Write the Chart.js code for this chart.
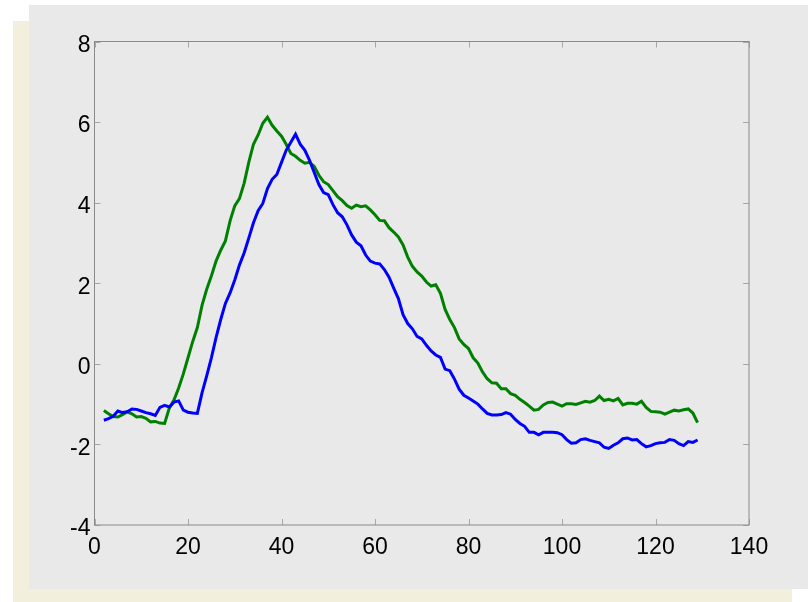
<!DOCTYPE html>
<html>
<head>
<meta charset="utf-8">
<script src="https://cdn.jsdelivr.net/npm/chart.js@4"></script>
<style>
  html, body { margin: 0; padding: 0; background: #ffffff; }
  #wrap { position: relative; width: 811px; height: 602px; }
</style>
</head>
<body>
<div id="wrap"><canvas id="chart" width="811" height="602"></canvas></div>
<script>
// sample index of the first point; one sample per unit after it
const firstSample = 2;

const blueSeries = [
  -1.40, -1.36, -1.30, -1.17, -1.21, -1.19, -1.12, -1.13, -1.17, -1.21,
  -1.24, -1.28, -1.08, -1.03, -1.07, -0.95, -0.92, -1.15, -1.20, -1.22,
  -1.23, -0.72, -0.30, 0.15, 0.65, 1.10, 1.50, 1.76, 2.08, 2.45,
  2.75, 3.12, 3.50, 3.80, 3.98, 4.35, 4.58, 4.70, 5.00, 5.30,
  5.50, 5.70, 5.45, 5.30, 5.05, 4.75, 4.45, 4.25, 4.20, 3.95,
  3.75, 3.65, 3.45, 3.20, 3.02, 2.93, 2.70, 2.55, 2.50, 2.48,
  2.34, 2.15, 1.88, 1.62, 1.22, 1.00, 0.87, 0.68, 0.62, 0.46,
  0.32, 0.22, 0.16, -0.13, -0.17, -0.38, -0.63, -0.78, -0.85, -0.92,
  -1.00, -1.12, -1.23, -1.27, -1.27, -1.26, -1.21, -1.25, -1.38, -1.48,
  -1.55, -1.70, -1.70, -1.76, -1.70, -1.70, -1.70, -1.71, -1.76, -1.88,
  -1.97, -1.96, -1.88, -1.86, -1.90, -1.93, -1.96, -2.07, -2.10, -2.02,
  -1.96, -1.86, -1.84, -1.89, -1.88, -1.98, -2.06, -2.03, -1.98, -1.96,
  -1.95, -1.88, -1.90, -1.98, -2.03, -1.93, -1.95, -1.89
];

const greenSeries = [
  -1.16, -1.24, -1.31, -1.32, -1.26, -1.19, -1.24, -1.32, -1.31, -1.35,
  -1.44, -1.43, -1.47, -1.48, -1.10, -0.90, -0.60, -0.25, 0.15, 0.55,
  0.90, 1.45, 1.85, 2.18, 2.55, 2.82, 3.05, 3.55, 3.92, 4.10,
  4.48, 5.00, 5.45, 5.68, 5.97, 6.12, 5.92, 5.78, 5.65, 5.45,
  5.22, 5.15, 5.05, 4.98, 5.00, 4.90, 4.68, 4.52, 4.45, 4.30,
  4.15, 4.05, 3.93, 3.86, 3.94, 3.90, 3.92, 3.82, 3.70, 3.56,
  3.55, 3.38, 3.27, 3.15, 2.95, 2.65, 2.42, 2.28, 2.18, 2.03,
  1.93, 1.96, 1.75, 1.35, 1.10, 0.90, 0.62, 0.48, 0.38, 0.15,
  0.02, -0.20, -0.37, -0.47, -0.48, -0.62, -0.62, -0.74, -0.78, -0.88,
  -0.96, -1.05, -1.15, -1.13, -1.02, -0.96, -0.95, -1.00, -1.05, -0.99,
  -0.99, -1.01, -0.97, -0.93, -0.95, -0.91, -0.80, -0.91, -0.88, -0.92,
  -0.86, -1.02, -0.98, -0.98, -1.00, -0.93, -1.08, -1.18, -1.19, -1.20,
  -1.25, -1.20, -1.15, -1.17, -1.14, -1.12, -1.22, -1.46
];

const xTicks = [0, 20, 40, 60, 80, 100, 120, 140];
const yTicks = [-4, -2, 0, 2, 4, 6, 8];

function toPoints(values) {
  return values.map((v, i) => ({ x: firstSample + i, y: v }));
}

// figure backdrop: offset pale shadow + grey panel
const backdrop = {
  id: 'backdrop',
  beforeDraw(chart) {
    const c = chart.ctx;
    c.save();
    c.fillStyle = '#ffffff';
    c.fillRect(0, 0, chart.width, chart.height);
    c.fillStyle = '#f2f0dc';
    c.fillRect(13, 21, 779, 581);
    c.fillStyle = '#e9e9e9';
    c.fillRect(29, 5, 779, 584);
    c.restore();
  }
};

// box round the axes, with small inward ticks on all four sides
const axesBox = {
  id: 'axesBox',
  afterDatasetsDraw(chart) {
    const c = chart.ctx;
    const a = chart.chartArea;
    const xs = chart.scales.x, ys = chart.scales.y;
    const len = 6;
    c.save();
    c.strokeStyle = '#a8a8a8';
    c.lineWidth = 1;
    c.beginPath();
    xTicks.forEach(t => {
      const px = Math.round(xs.getPixelForValue(t)) + 0.5;
      c.moveTo(px, a.bottom); c.lineTo(px, a.bottom - len);
      c.moveTo(px, a.top); c.lineTo(px, a.top + len);
    });
    yTicks.forEach(t => {
      const py = Math.round(ys.getPixelForValue(t)) + 0.5;
      c.moveTo(a.left, py); c.lineTo(a.left + len, py);
      c.moveTo(a.right, py); c.lineTo(a.right - len, py);
    });
    c.stroke();
    c.strokeStyle = '#8a8a8a';
    c.strokeRect(a.left, a.top, a.right - a.left, a.bottom - a.top);
    c.restore();
  }
};

const tickFont = { family: '"Liberation Sans", Arial, sans-serif', size: 23 };

new Chart(document.getElementById('chart').getContext('2d'), {
  type: 'line',
  data: {
    datasets: [
      { data: toPoints(blueSeries), borderColor: '#0000ff', borderWidth: 3, pointRadius: 0, tension: 0 },
      { data: toPoints(greenSeries), borderColor: '#008000', borderWidth: 3, pointRadius: 0, tension: 0 }
    ]
  },
  options: {
    responsive: false,
    animation: false,
    events: [],
    layout: { padding: { left: 0, top: 41.5, right: 62, bottom: 0 } },
    plugins: { legend: { display: false }, tooltip: { enabled: false } },
    scales: {
      x: {
        type: 'linear',
        min: 0, max: 140,
        afterBuildTicks: s => { s.ticks = xTicks.map(v => ({ value: v })); },
        afterFit: s => { s.height = 77; },
        grid: { display: false, drawTicks: false },
        border: { display: false },
        ticks: { font: tickFont, color: '#000000', padding: 9, maxRotation: 0, autoSkip: false }
      },
      y: {
        min: -4, max: 8,
        afterBuildTicks: s => { s.ticks = yTicks.map(v => ({ value: v })); },
        afterFit: s => { s.width = 94.5; },
        grid: { display: false, drawTicks: false },
        border: { display: false },
        ticks: { font: tickFont, color: '#000000', padding: 4, labelOffset: 4 }
      }
    }
  },
  plugins: [backdrop, axesBox]
});
</script>
</body>
</html>
